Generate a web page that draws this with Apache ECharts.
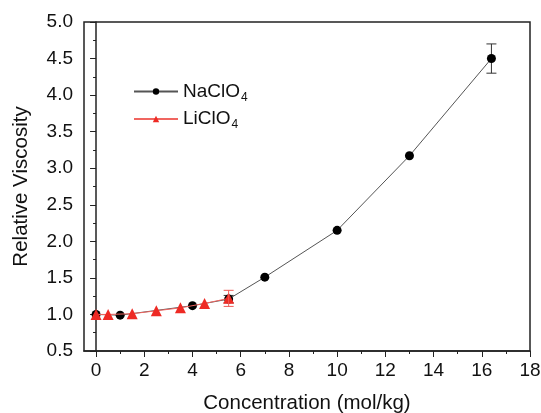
<!DOCTYPE html>
<html>
<head>
<meta charset="utf-8">
<script src="https://cdn.jsdelivr.net/npm/echarts@6/dist/echarts.min.js"></script>
<style>
  html, body { margin: 0; padding: 0; background: #fff; }
  #chart { width: 541px; height: 413px; }
</style>
</head>
<body>
<div id="chart"></div>
<script>
// NaClO4 points: [concentration, relative viscosity]
const naclo4 = [[0, 1.0], [1, 0.99], [4, 1.12], [5.5, 1.21], [7, 1.51], [10, 2.15], [13, 3.17], [16.4, 4.5]];
// LiClO4 points
const liclo4 = [[0, 1.0], [0.5, 1.0], [1.5, 1.01], [2.5, 1.05], [3.5, 1.09], [4.5, 1.15], [5.5, 1.22]];
// error bars: [x, y, +/-]
const naErr = [[16.4, 4.5, 0.2], [5.5, 1.21, 0.05]];
const liErr = [[5.5, 1.22, 0.11]];

const xMajor = [0, 2, 4, 6, 8, 10, 12, 14, 16, 18];
const xMinor = [1, 3, 5, 7, 9, 11, 13, 15, 17];

const font = "Liberation Sans, Arial, sans-serif";

function errorBar(color) {
    return function (params, api) {
        const x = api.value(0), y = api.value(1), e = api.value(2);
        const top = api.coord([x, y + e]);
        const bot = api.coord([x, y - e]);
        const w = 5;
        const style = { stroke: color, lineWidth: 1 };
        return {
            type: "group",
            children: [
                { type: "line", shape: { x1: top[0], y1: top[1], x2: bot[0], y2: bot[1] }, style: style },
                { type: "line", shape: { x1: top[0] - w, y1: top[1], x2: top[0] + w, y2: top[1] }, style: style },
                { type: "line", shape: { x1: bot[0] - w, y1: bot[1], x2: bot[0] + w, y2: bot[1] }, style: style }
            ]
        };
    };
}

const chart = echarts.init(document.getElementById("chart"));
const option = {
    animation: false,
    backgroundColor: "#fff",
    grid: {
        left: 84, right: 11, top: 22, bottom: 62,
        outerBoundsMode: "none", containLabel: false,
        show: true, borderColor: "#222", borderWidth: 1.5
    },
    legend: {
        left: 128, top: 77, orient: "vertical",
        itemGap: 6, itemWidth: 44, itemHeight: 8,
        data: ["NaClO4", "LiClO4"],
        formatter: function (name) {
            return name.slice(0, -1) + "{sub|4}";
        },
        textStyle: {
            fontFamily: font, fontSize: 19, color: "#111",
            rich: { sub: { fontFamily: font, fontSize: 12, color: "#111", padding: [12, 0, 0, 1] } }
        }
    },
    xAxis: [{
        type: "value", min: -0.5, max: 18,
        name: "Concentration (mol/kg)", nameLocation: "middle", nameGap: 42,
        nameTextStyle: { fontFamily: font, fontSize: 20.5, color: "#111" },
        splitLine: { show: false },
        axisLine: { lineStyle: { color: "#222", width: 1.5 } },
        axisTick: { length: 6, lineStyle: { color: "#222" }, customValues: xMajor },
        axisLabel: { fontFamily: font, fontSize: 19, color: "#111", margin: 10, customValues: xMajor }
    }, {
        type: "value", min: -0.5, max: 18, position: "bottom",
        splitLine: { show: false },
        axisLine: { show: false },
        axisTick: { length: 3, lineStyle: { color: "#222" }, customValues: xMinor },
        axisLabel: { show: false }
    }],
    yAxis: {
        type: "value", min: 0.5, max: 5, interval: 0.5,
        name: "Relative Viscosity", nameLocation: "middle", nameGap: 52,
        nameTextStyle: { fontFamily: font, fontSize: 20.5, color: "#111" },
        splitLine: { show: false },
        axisLine: { show: true, lineStyle: { color: "#222", width: 1.5 } },
        axisTick: { length: 6, lineStyle: { color: "#222" } },
        minorTick: { show: true, splitNumber: 2, length: 3, lineStyle: { color: "#222" } },
        axisLabel: { fontFamily: font, fontSize: 19, color: "#111", margin: 11,
            formatter: v => v.toFixed(1) }
    },
    series: [
        {
            name: "NaClO4", type: "line", data: naclo4,
            symbol: "circle", symbolSize: 9,
            itemStyle: { color: "#000" },
            lineStyle: { color: "#555", width: 1 },
            z: 3
        },
        {
            name: "LiClO4", type: "line", data: liclo4,
            symbol: "triangle", symbolSize: 11,
            itemStyle: { color: "#ee2a24" },
            lineStyle: { color: "#f06560", width: 1 },
            z: 4
        },
        {
            type: "custom", data: naErr, renderItem: errorBar("#333"), z: 2
        },
        {
            type: "custom", data: liErr, renderItem: errorBar("#ee5a55"), z: 5
        }
    ]
};
chart.setOption(option);
</script>
</body>
</html>
